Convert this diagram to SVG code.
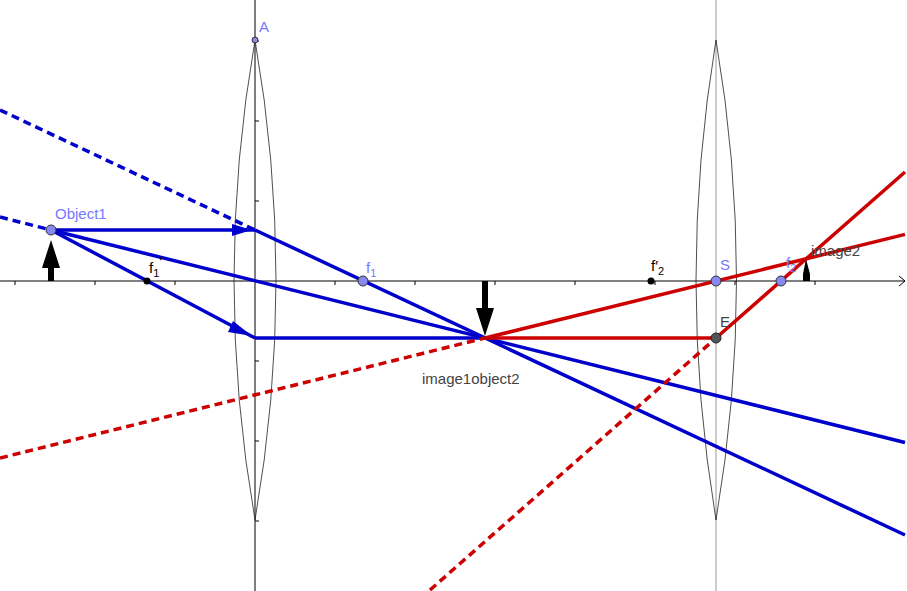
<svg xmlns="http://www.w3.org/2000/svg" width="907" height="591" viewBox="0 0 907 591">
<style>
.ax{stroke:#000;stroke-width:1;fill:none}
.lens{stroke:#222;stroke-width:0.8;fill:none}
.b{stroke:#0000cc;stroke-width:3.5;fill:none}
.bd{stroke:#0000cc;stroke-width:3.5;fill:none;stroke-dasharray:8,5}
.r{stroke:#cc0000;stroke-width:3.5;fill:none}
.rd{stroke:#cc0000;stroke-width:3.5;fill:none;stroke-dasharray:8,5}
.lb{font-family:"Liberation Sans",Arial,sans-serif;font-size:15px}
.sub{font-size:11px}
.blue{fill:#7777ff}
.dk{fill:#444}
.pt{fill:#8888ee;stroke:#333;stroke-width:1}
</style>
<rect width="907" height="591" fill="#fff"/>
<g id="axes">
<line class="ax" x1="0" y1="281" x2="905" y2="281"/>
<path class="ax" d="M899,276 L905,281 L899,286"/>
<line class="ax" x1="255" y1="0" x2="255" y2="591"/>
<line x1="716" y1="0" x2="716" y2="591" stroke="#bbb" stroke-width="1.5"/>
<path class="ax" d="M15,281v4M95,281v4M175,281v4M335,281v4M415,281v4M495,281v4M575,281v4M655,281v4M735,281v4M815,281v4M255,41h4M255,121h4M255,201h4M255,361h4M255,441h4M255,521h4"/>
</g>
<g id="lens1"><path class="lens" d="M255,40 Q213,280 255,520 Q297,280 255,40Z"/></g>
<g id="lens2"><path class="lens" d="M716,40 Q676,280 716,520 Q757,280 716,40Z"/></g>
<g id="connectors">
<line class="bd" x1="0" y1="110" x2="255" y2="230"/>
<line class="bd" x1="0" y1="217" x2="51" y2="230"/>
<line class="b" x1="51" y1="230" x2="255" y2="230"/>
<path d="M232,224 L252,230 L232,236Z" fill="#0000cc"/>
<line class="b" x1="255" y1="230" x2="905" y2="535"/>
<line class="b" x1="51" y1="230" x2="905" y2="442.5"/>
<line class="b" x1="51" y1="230" x2="255" y2="338"/>
<path d="M233,321 L252,336 L228,332Z" fill="#0000cc"/>
<line class="b" x1="255" y1="338" x2="485" y2="338"/>
<line class="r" x1="485" y1="338" x2="905" y2="234.4"/>
<line class="rd" x1="0" y1="458" x2="485" y2="338"/>
<line class="r" x1="485" y1="338" x2="716" y2="338"/>
<line class="r" x1="716" y1="338" x2="905" y2="172"/>
<line class="rd" x1="430" y1="590" x2="716" y2="338"/>
</g>
<g id="object1">
<path d="M48,281 V268 H42 L51,240 L60,268 H54 V281Z" fill="#000"/>
<circle class="pt" cx="51" cy="230" r="5"/>
<text class="lb blue" x="55" y="219">Object1</text>
</g>
<g id="image1">
<path d="M482,281 V308 H476 L485,336 L494,308 H488 V281Z" fill="#000"/>
<text class="lb dk" x="422" y="384">image1object2</text>
</g>
<g id="image2">
<path d="M803,281 V274 L806,259 L810,274 V281Z" fill="#000"/>
<text class="lb dk" x="811" y="256">image2</text>
</g>
<g id="A"><circle class="pt" cx="255" cy="40" r="3"/><text class="lb blue" x="259" y="32">A</text></g>
<g id="f1p"><circle cx="147" cy="281" r="3.5" fill="#000"/><text class="lb" x="149" y="273">f<tspan class="sub" dy="4">1</tspan><tspan dy="-10">'</tspan></text></g>
<g id="f1"><circle class="pt" cx="363" cy="281" r="5"/><text class="lb blue" x="366" y="273">f<tspan class="sub" dy="4">1</tspan></text></g>
<g id="f2p"><circle cx="651" cy="281" r="3.5" fill="#000"/><text class="lb" x="651" y="271">f′<tspan class="sub" dy="4">2</tspan></text></g>
<g id="S"><circle class="pt" cx="716" cy="281" r="5"/><text class="lb blue" x="720" y="270">S</text></g>
<g id="f2"><circle class="pt" cx="781" cy="281" r="5"/><text class="lb blue" x="786" y="268">f<tspan class="sub" dy="4">2</tspan></text></g>
<g id="E"><circle cx="716" cy="338" r="5" fill="#555" stroke="#222"/><text class="lb dk" x="720" y="327">E</text></g>
</svg>
